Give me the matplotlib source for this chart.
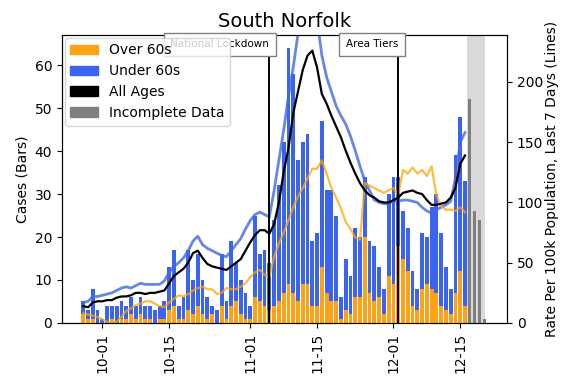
import matplotlib
matplotlib.use('Agg')
import matplotlib.pyplot as plt
import matplotlib.dates as mdates
import matplotlib.patches as mpatches
import numpy as np
import pandas as pd

# daily data, 27 Sep - 16 Dec 2020
days = pd.date_range('2020-09-27', '2020-12-16')
incomplete_days = pd.date_range('2020-12-17', '2020-12-20')

total_cases = [5, 3, 8, 3,
               1, 4, 4, 4, 5, 4, 6, 4, 6, 4,
               4, 3, 4, 5, 13, 17, 4, 6, 17, 10,
               16, 10, 6, 4, 3, 16, 5, 19, 14, 10, 7,
               4, 25, 16, 17, 14, 24, 32, 42, 64, 58,
               38, 42, 44, 19, 21, 47, 31, 31, 25, 6,
               15, 11, 22, 20, 34, 19, 18, 13, 8, 30,
               34, 34, 26, 22, 12, 8, 21, 20, 27, 30,
               21, 13, 8, 39, 48, 33]
over60_cases = [2, 1, 1, 0,
                0, 0, 1, 0, 1, 1, 2, 1, 2, 1,
                1, 0, 1, 1, 3, 4, 1, 1, 3, 2,
                4, 2, 1, 2, 0, 4, 1, 4, 5, 2, 1,
                1, 6, 5, 4, 3, 4, 5, 7, 9, 7,
                5, 9, 9, 4, 4, 13, 7, 5, 5, 1,
                3, 2, 6, 6, 20, 7, 5, 6, 2, 11,
                9, 18, 15, 12, 4, 3, 8, 9, 8, 7,
                4, 3, 2, 7, 12, 4]
incomplete_cases = [52, 26, 24, 1]

rate_all = [14, 13, 17, 18,
            18, 19, 19, 21, 22, 22, 23, 25, 25, 24,
            25, 25, 26, 27, 33, 39, 42, 45, 50, 58,
            60, 54, 49, 47, 46, 45, 44, 47, 50, 53, 60,
            67, 73, 77, 77, 74, 82, 100, 125, 145, 174,
            192, 210, 222, 226, 212, 190, 182, 172, 163, 154,
            143, 133, 124, 116, 110, 106, 104, 101, 100, 100,
            102, 104, 108, 109, 110, 108, 107, 102, 98, 98,
            99, 100, 104, 112, 132, 139]
rate_under60 = [17, 18, 22, 22,
                23, 24, 25, 27, 29, 30, 29, 31, 33, 32,
                32, 32, 32, 35, 42, 47, 50, 54, 60, 68,
                72, 65, 62, 60, 58, 56, 55, 60, 65, 70, 78,
                85, 90, 92, 90, 88, 110, 135, 160, 188, 212,
                240, 262, 272, 270, 252, 222, 204, 192, 180, 172,
                165, 155, 143, 130, 118, 110, 102, 100, 99, 99,
                101, 101, 102, 102, 101, 100, 96, 93, 91, 94,
                96, 98, 101, 120, 150, 158]
rate_over60 = [8, 7, 6, 5,
               3, 1, 0, 1, 5, 10, 12, 15, 16, 18,
               18, 16, 14, 13, 17, 20, 23, 22, 24, 27,
               29, 30, 28, 28, 24, 25, 29, 28, 28, 30, 33,
               38, 42, 44, 40, 38, 55, 66, 75, 85, 96,
               105, 112, 120, 128, 128, 135, 124, 112, 104, 95,
               84, 78, 71, 69, 116, 114, 112, 110, 108, 110,
               112, 106, 127, 124, 129, 124, 127, 122, 130, 106,
               97, 94, 94, 93, 96, 92]

events = [('2020-11-05', 'National Lockdown'), ('2020-12-02', 'Area Tiers')]

under60_cases = np.array(total_cases) - np.array(over60_cases)

fig, ax = plt.subplots(figsize=(5.61, 3.76), dpi=100)
fig.subplots_adjust(left=0.1105, right=0.904, bottom=0.141, top=0.907)
ax2 = ax.twinx()

ax.axvspan(pd.Timestamp('2020-12-16 08:00'), pd.Timestamp('2020-12-20 03:00'),
           color='#d9d9d9', lw=0, zorder=0)
ax.bar(days, over60_cases, width=0.8, color='#ffa114')
ax.bar(days, under60_cases, width=0.8, bottom=over60_cases, color='#3a64f0')
ax.bar(incomplete_days, incomplete_cases, width=0.6, color='grey')

ax2.plot(days, rate_under60, color='royalblue', lw=2, alpha=0.8)
ax2.plot(days, rate_over60, color='orange', lw=1.6, alpha=0.75)
ax2.plot(days, rate_all, color='black', lw=1.6)

for d, label in events:
    ax2.axvline(pd.Timestamp(d), color='black', lw=1.4)
    ax2.text(pd.Timestamp(d), 0.985, label, transform=ax2.get_xaxis_transform(),
             ha='right', va='top', fontsize=7.5,
             bbox=dict(boxstyle='square,pad=0.65', fc='white', ec='grey'))

handles = [mpatches.Patch(color='#ffa114', label='Over 60s'),
           mpatches.Patch(color='#3a64f0', label='Under 60s'),
           mpatches.Patch(color='black', label='All Ages'),
           mpatches.Patch(color='grey', label='Incomplete Data')]
ax2.legend(handles=handles, loc='upper left', fontsize=10, borderaxespad=0.2)

ax.set_xlim(pd.Timestamp('2020-09-22 13:00'), pd.Timestamp('2020-12-24 20:00'))
ax.set_ylim(0, 67)
ax2.set_ylim(0, 239)
ax.xaxis.set_major_locator(mdates.DayLocator(bymonthday=[1, 15]))
ax.xaxis.set_major_formatter(mdates.DateFormatter('%m-%d'))
plt.setp(ax.get_xticklabels(), rotation=90)

ax.set_ylabel('Cases (Bars)')
ax2.set_ylabel('Rate Per 100k Population, Last 7 Days (Lines)', labelpad=1)
ax.set_title('South Norfolk', fontsize=14)

fig.savefig('out.png', dpi=100)
